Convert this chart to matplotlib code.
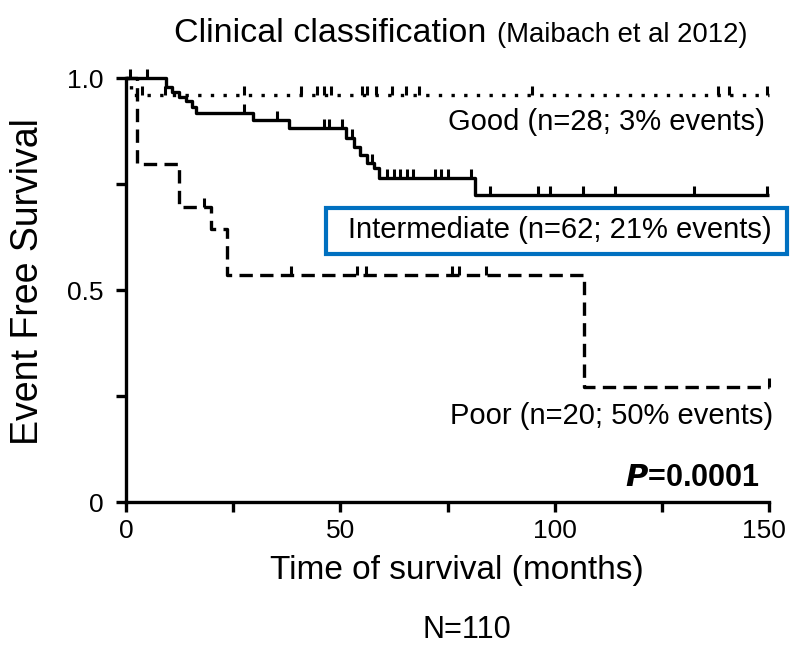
import matplotlib
matplotlib.use('Agg')
import matplotlib.pyplot as plt
import matplotlib.transforms as mtransforms
from matplotlib import font_manager
from matplotlib.patches import Rectangle
import numpy as np

plt.rcParams['font.family'] = ['Liberation Sans', 'DejaVu Sans']
installed = {f.name for f in font_manager.fontManager.ttflist}
if 'Liberation Sans Narrow' in installed:
    cond = 'Liberation Sans Narrow'
    k = 1.16
else:
    cond = 'Liberation Sans'
    k = 1.0

# Kaplan-Meier step values (months, event free survival)
good_t = [0, 1.2]
good_s = [1.0, 0.96]
good_cens = [3.8, 9.0, 27.5, 40.8, 44.6, 46.2, 47.8, 55.0, 56.2, 58.3, 62.0,
             65.3, 68.4, 94.7, 138.0, 140.6, 149.5]

inter_t = [0, 9.3, 10.8, 12.4, 14.0, 15.4, 16.3, 29.6, 38.1, 51.3, 53.1,
           54.7, 56.2, 57.8, 59.0, 81.5]
inter_s = [1.0, 0.979, 0.967, 0.955, 0.945, 0.932, 0.917, 0.90, 0.882, 0.858,
           0.837, 0.818, 0.80, 0.787, 0.764, 0.725]
inter_cens = [1.0, 4.9, 27.5, 35.3, 46.2, 47.3, 50.4, 52.7, 57.4, 61.0, 62.5,
              64.0, 65.5, 67.0, 72.0, 73.5, 75.0, 80.5, 85.0, 96.0, 98.8,
              106.7, 114.0, 132.6, 149.6]

poor_t = [0, 2.5, 12.4, 19.8, 23.5, 106.8]
poor_s = [1.0, 0.797, 0.696, 0.644, 0.535, 0.272]
poor_cens = [18.2, 38.5, 53.9, 56.0, 76.0, 77.7, 84.0, 150.0]

t_max = 150
labels = ['Good (n=28; 3% events)', 'Intermediate (n=62; 21% events)',
          'Poor (n=20; 50% events)']


def km(ax, t, s, cens, ls):
    tt = list(t) + [t_max]
    ss = list(s) + [s[-1]]
    ax.step(tt, ss, where='post', color='black', lw=2.4, ls=ls,
            clip_on=False, solid_capstyle='butt', dash_capstyle='butt')
    idx = np.searchsorted(t, cens, side='right') - 1
    cy = np.array(s)[idx]
    ax.plot(cens, cy, ls='none', marker=2, color='black', ms=6.5, mew=2.2,
            clip_on=False)


fig = plt.figure(figsize=(7.9, 6.5), dpi=100)
ax = fig.add_axes([126 / 790, 1 - 502 / 650, 643 / 790, 424 / 650])

km(ax, good_t, good_s, good_cens, (0, (1, 2.8)))
km(ax, inter_t, inter_s, inter_cens, '-')
km(ax, poor_t, poor_s, poor_cens, (0, (4, 2.2)))

ax.set_xlim(0, 150)
ax.set_ylim(0, 1.0)
for side in ['top', 'right']:
    ax.spines[side].set_visible(False)
for side in ['left', 'bottom']:
    ax.spines[side].set_linewidth(2.4)

ax.set_xticks([0, 50, 100, 150])
ax.set_xticks([25, 75, 125], minor=True)
ax.set_yticks([0, 0.5, 1.0])
ax.set_yticks([0.25, 0.75], minor=True)
ax.set_yticklabels(['0', '0.5', '1.0'])
ax.tick_params(which='both', direction='out', length=7, width=2.4)
ax.tick_params(axis='x', pad=5)
ax.tick_params(axis='y', pad=9)
for lab in ax.get_xticklabels() + ax.get_yticklabels():
    lab.set_family(cond)
    lab.set_fontsize(19 * k)
# keep the last x tick label inside the canvas
last = ax.get_xticklabels()[-1]
last.set_transform(last.get_transform() + mtransforms.ScaledTranslation(
    -5 / 100, 0, fig.dpi_scale_trans))

# curve labels
ax.text(149, 0.896, labels[0], ha='right', va='center', fontsize=21)
ax.text(150.7, 0.642, labels[1], ha='right', va='center', fontsize=21)
ax.text(150.9, 0.203, labels[2], ha='right', va='center', fontsize=21)
ax.add_patch(Rectangle((46.6, 0.585), 107.6, 0.108, fill=False,
                       ec='#0070C0', lw=3, clip_on=False))
ax.text(147.9, 0.057, r'$\bfit{P}$' + '=0.0001', ha='right', va='center',
        fontsize=22, fontweight='bold')

fig.text(174 / 790, 1 - 42 / 650, 'Clinical classification',
         ha='left', va='baseline', fontsize=24.5 * k, family=cond)
fig.text(497 / 790, 1 - 42 / 650, '(Maibach et al 2012)',
         ha='left', va='baseline', fontsize=19.8 * k, family=cond)
fig.text(28 / 790, 1 - 282 / 650, 'Event Free Survival', rotation=90,
         ha='center', va='center', fontsize=27 * k, family=cond)
fig.text(457 / 790, 1 - 570 / 650, 'Time of survival (months)',
         ha='center', va='center', fontsize=24 * k, family=cond)
fig.text(467 / 790, 1 - 630 / 650, 'N=110', ha='center', va='center',
         fontsize=22 * k, family=cond)

fig.savefig('out.png', dpi=100)
